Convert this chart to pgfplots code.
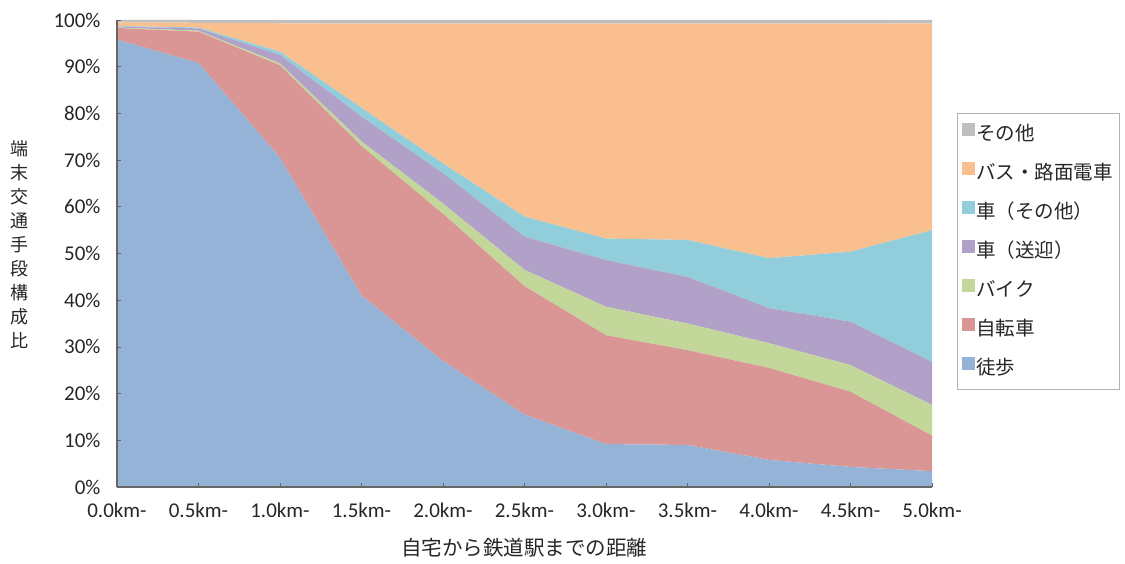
\documentclass[border=0pt]{standalone}
\usepackage{fontspec}
\setmainfont{Carlito}
\newfontfamily\jp{Noto Sans CJK JP}
\usepackage{pgfplots}
\usepackage{pgfplotstable}
\pgfplotsset{compat=1.18}
\definecolor{cwalk}{HTML}{95B3D7}
\definecolor{cbike}{HTML}{DA9694}
\definecolor{cmoto}{HTML}{C4D79B}
\definecolor{cpick}{HTML}{B1A0C7}
\definecolor{ccar}{HTML}{92CDDC}
\definecolor{cbus}{HTML}{FABF8F}
\definecolor{cother}{HTML}{BFBFBF}
\pgfplotstableread{
x   walk bike moto pick car  bus  other
0.0 95.8 2.5  0.1  0.2  0.1  0.8  0.5
0.5 90.8 6.7  0.2  0.5  0.2  1.0  0.6
1.0 70.5 19.8 0.4  1.8  0.7  6.1  0.7
1.5 41.0 32.0 1.0  5.3  1.9  18.0 0.8
2.0 27.0 31.5 2.2  6.5  2.1  29.9 0.8
2.5 15.5 27.5 3.5  7.1  4.3  41.3 0.8
3.0 9.2  23.3 6.1  10.0 4.6  46.0 0.8
3.5 9.0  20.3 5.7  10.0 7.9  46.3 0.8
4.0 5.8  19.7 5.3  7.5  10.7 50.2 0.8
4.5 4.3  16.1 5.7  9.3  15.0 48.8 0.8
5.0 3.4  7.6  6.6  9.2  28.2 44.3 0.7
}\datatable
\begin{document}
\begin{tikzpicture}
\begin{axis}[
  at={(0,0)}, anchor=south west,
  scale only axis, width=815pt, height=467pt,
  xmin=0, xmax=5, ymin=0, ymax=100,
  stack plots=y, area style,
  legend image code/.code={\fill[#1] (0pt,-1pt) rectangle (13pt,12pt);},
  axis on top,
  axis x line*=bottom, axis y line*=left,
  axis line style={draw=gray!80!black, line width=1.5pt},
  xtick={0,0.5,1,1.5,2,2.5,3,3.5,4,4.5,5},
  xticklabels={0.0km-,0.5km-,1.0km-,1.5km-,2.0km-,2.5km-,3.0km-,3.5km-,4.0km-,4.5km-,5.0km-},
  ytick={0,10,20,30,40,50,60,70,80,90,100},
  yticklabels={0\%,10\%,20\%,30\%,40\%,50\%,60\%,70\%,80\%,90\%,100\%},
  tick align=inside, major tick length=4pt,
  tick style={draw=gray!80!black, line width=0.8pt},
  ticklabel style={font=\fontsize{21}{23}\selectfont, text=black!85},
  xticklabel style={yshift=-12pt},
  yticklabel style={xshift=-13pt},
  xlabel={自宅から鉄道駅までの距離},
  xlabel style={font=\jp\fontsize{20.5}{22}\selectfont, text=black!85, at={(axis description cs:0.5,0)}, anchor=center, yshift=-61pt},
  ylabel={端\\末\\交\\通\\手\\段\\構\\成\\比},
  ylabel style={rotate=-90, align=center, font=\jp\fontsize{18}{24}\selectfont, text=black!85, at={(axis description cs:0,0.52)}, anchor=center, xshift=-97pt},
  reverse legend,
  legend cell align=left,
  legend style={at={(1.0307,0.8009)}, anchor=north west, draw=gray!60, line width=0.8pt, fill=white,
    font=\jp\fontsize{19.5}{21}\selectfont, text=black!85,
    nodes={inner sep=1pt, text height=14pt, text depth=4pt},
    row sep=17pt, inner xsep=5pt, inner ysep=10pt,
    /tikz/every even column/.append style={column sep=9pt}},
]
\addplot[fill=cwalk, draw=none] table[x=x,y=walk]{\datatable} \closedcycle;
\addlegendentry{徒歩}
\addplot[fill=cbike, draw=none] table[x=x,y=bike]{\datatable} \closedcycle;
\addlegendentry{自転車}
\addplot[fill=cmoto, draw=none] table[x=x,y=moto]{\datatable} \closedcycle;
\addlegendentry{バイク}
\addplot[fill=cpick, draw=none] table[x=x,y=pick]{\datatable} \closedcycle;
\addlegendentry{車（送迎）}
\addplot[fill=ccar, draw=none] table[x=x,y=car]{\datatable} \closedcycle;
\addlegendentry{車（その他）}
\addplot[fill=cbus, draw=none] table[x=x,y=bus]{\datatable} \closedcycle;
\addlegendentry{バス・路面電車}
\addplot[fill=cother, draw=none] table[x=x,y=other]{\datatable} \closedcycle;
\addlegendentry{その他}
\end{axis}
\pgfresetboundingbox
\path (-117pt,-76pt) rectangle (1008pt,487pt);
\end{tikzpicture}
\end{document}
